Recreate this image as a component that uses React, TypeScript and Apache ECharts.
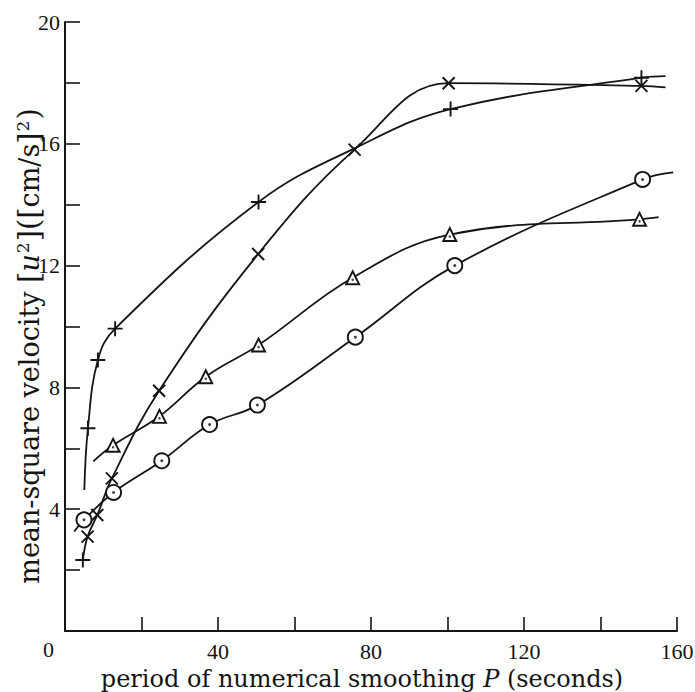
import React, { useEffect, useRef } from 'react';
import * as echarts from 'echarts';

// "+" series: smoothing period P (s) and mean-square velocity
const plusP = [5.05, 6.0, 8.6, 13.1, 50.6, 75.7, 100.8, 150.7, 157];
const plusV = [4.63, 6.66, 8.9, 9.93, 14.09, 15.85, 17.14, 18.17, 18.22];
const plusMark = ['none', 'plus', 'plus', 'plus', 'plus', 'none', 'plus', 'plus', 'none'];

// "×" series (first point drawn as "+")
const crossP = [4.66, 5.9, 8.44, 12.25, 24.6, 50.5, 75.7, 100.3, 150.7, 157];
const crossV = [2.33, 3.1, 3.81, 5.01, 7.89, 12.38, 15.81, 17.99, 17.9, 17.85];
const crossMark = ['plus', 'cross', 'cross', 'cross', 'cross', 'cross', 'cross', 'cross', 'cross', 'none'];

// triangle series
const triP = [7.39, 12.57, 24.7, 36.8, 50.6, 75.2, 100.6, 150.2, 155.2];
const triV = [5.57, 6.1, 7.05, 8.35, 9.39, 11.6, 13.02, 13.52, 13.59];
const triMark = ['none', 'tri', 'tri', 'tri', 'tri', 'tri', 'tri', 'tri', 'none'];

// dotted-circle series
const circP = [2.4, 4.96, 12.7, 25.3, 37.8, 50.3, 75.9, 101.9, 151, 159];
const circV = [3.27, 3.65, 4.55, 5.59, 6.78, 7.42, 9.65, 12.0, 14.83, 15.06];
const circMark = ['none', 'circ', 'circ', 'circ', 'circ', 'circ', 'circ', 'circ', 'circ', 'none'];

const xTicks = [0, 20, 40, 60, 80, 100, 120, 140, 160];
const yTicks = [0, 2, 4, 6, 8, 10, 12, 14, 16, 18, 20];

const INK = '#151515';
const PLUS = 'path://M0,5L10,5M5,0L5,10';
const CROSS = 'path://M0,0L10,10M0,10L10,0';

const symbolFor: Record<string, { symbol: string; size: number }> = {
  plus: { symbol: PLUS, size: 15 },
  cross: { symbol: CROSS, size: 12 },
  tri: { symbol: 'triangle', size: 13 },
  circ: { symbol: 'circle', size: 15 },
  none: { symbol: 'none', size: 0 },
};

function build(P: number[], V: number[], mark: string[]) {
  return P.map((p, i) => {
    const s = symbolFor[mark[i]];
    return { value: [p, V[i]], symbol: s.symbol, symbolSize: s.size };
  });
}

function dots(P: number[], V: number[], mark: string[], key: string) {
  return P.map((p, i) => [p, V[i]]).filter((_, i) => mark[i] === key);
}

export default function App() {
  const ref = useRef<HTMLDivElement>(null);
  useEffect(() => {
    const chart = echarts.init(ref.current!, null, { renderer: 'svg' });
    const tickFont = { fontFamily: 'Liberation Serif', fontSize: 22, color: INK };
    const nameFont = 'DejaVu Serif';
    const lineSeries = (name: string, data: any[], fill: string) => ({
      name,
      type: 'line',
      data,
      smooth: 0.4,
      lineStyle: { color: INK, width: 1.8 },
      itemStyle: { color: fill, borderColor: INK, borderWidth: 1.9 },
      z: 3,
    });
    const option: any = {
      animation: false,
      backgroundColor: '#ffffff',
      grid: { left: 65, right: 18, top: 22, bottom: 61, containLabel: false, outerBoundsMode: 'none' },
      xAxis: {
        type: 'value',
        min: xTicks[0],
        max: xTicks[xTicks.length - 1],
        interval: 20,
        axisLine: { show: true, lineStyle: { color: INK, width: 2 } },
        axisTick: { show: true, inside: true, length: 14, lineStyle: { color: INK, width: 1.6 } },
        axisLabel: {
          ...tickFont,
          margin: 9,
          formatter: (v: number) => (v % 40 === 0 && v !== 0 ? String(v) : ''),
        },
        splitLine: { show: false },
        name: '{t|period of numerical smoothing }{i|P}{t| (seconds)}',
        nameLocation: 'middle',
        nameGap: 33,
        nameTextStyle: {
          padding: [0, 18, 0, 0],
          rich: {
            t: { fontFamily: nameFont, fontSize: 24, color: INK },
            i: { fontFamily: nameFont, fontSize: 24, fontStyle: 'italic', color: INK },
          },
        },
      },
      yAxis: {
        type: 'value',
        min: yTicks[0],
        max: yTicks[yTicks.length - 1],
        interval: 2,
        axisLine: { show: true, lineStyle: { color: INK, width: 2 } },
        axisTick: { show: true, inside: true, length: 15, lineStyle: { color: INK, width: 1.6 } },
        axisLabel: {
          ...tickFont,
          margin: 5,
          formatter: (v: number) => (v % 4 === 0 && v !== 0 ? String(v) : ''),
        },
        splitLine: { show: false },
      },
      graphic: [
        {
          type: 'text',
          left: 43,
          top: 638,
          style: { text: '0', fontFamily: 'Liberation Serif', fontSize: 22, fill: INK },
        },
        {
          type: 'text',
          x: 29,
          y: 346,
          rotation: Math.PI / 2,
          style: {
            text: '{t|mean-square velocity }{b|[}{i|u}{s|2}{b|]}{b|(}{b|[}{t|cm/s}{b|]}{s|2}{b|)}',
            align: 'center',
            verticalAlign: 'middle',
            fill: INK,
            rich: {
              t: { fontFamily: nameFont, fontSize: 27, fill: INK, lineHeight: 30 },
              b: { fontFamily: nameFont, fontSize: 29, fill: INK, lineHeight: 30 },
              i: { fontFamily: nameFont, fontSize: 27, fontStyle: 'italic', fill: INK, lineHeight: 30 },
              s: { fontFamily: nameFont, fontSize: 17, fill: INK, verticalAlign: 'top', lineHeight: 30, padding: [0, 1, 0, 1] },
            },
          },
        },
      ],
      series: [
        lineSeries('plus', build(plusP, plusV, plusMark), INK),
        lineSeries('cross', build(crossP, crossV, crossMark), INK),
        lineSeries('triangle', build(triP, triV, triMark), '#ffffff'),
        lineSeries('circle', build(circP, circV, circMark), '#ffffff'),
        {
          name: 'triDots',
          type: 'scatter',
          data: dots(triP, triV, triMark, 'tri'),
          symbol: 'circle',
          symbolSize: 2.5,
          symbolOffset: [0, 2],
          itemStyle: { color: INK },
          z: 5,
        },
        {
          name: 'circDots',
          type: 'scatter',
          data: dots(circP, circV, circMark, 'circ'),
          symbol: 'circle',
          symbolSize: 3,
          itemStyle: { color: INK },
          z: 5,
        },
      ],
    };
    chart.setOption(option);
    return () => chart.dispose();
  }, []);
  return (
    <div
      ref={ref}
      style={{ position: 'fixed', left: 0, top: 0, width: 695, height: 692, background: '#fff' }}
    />
  );
}
